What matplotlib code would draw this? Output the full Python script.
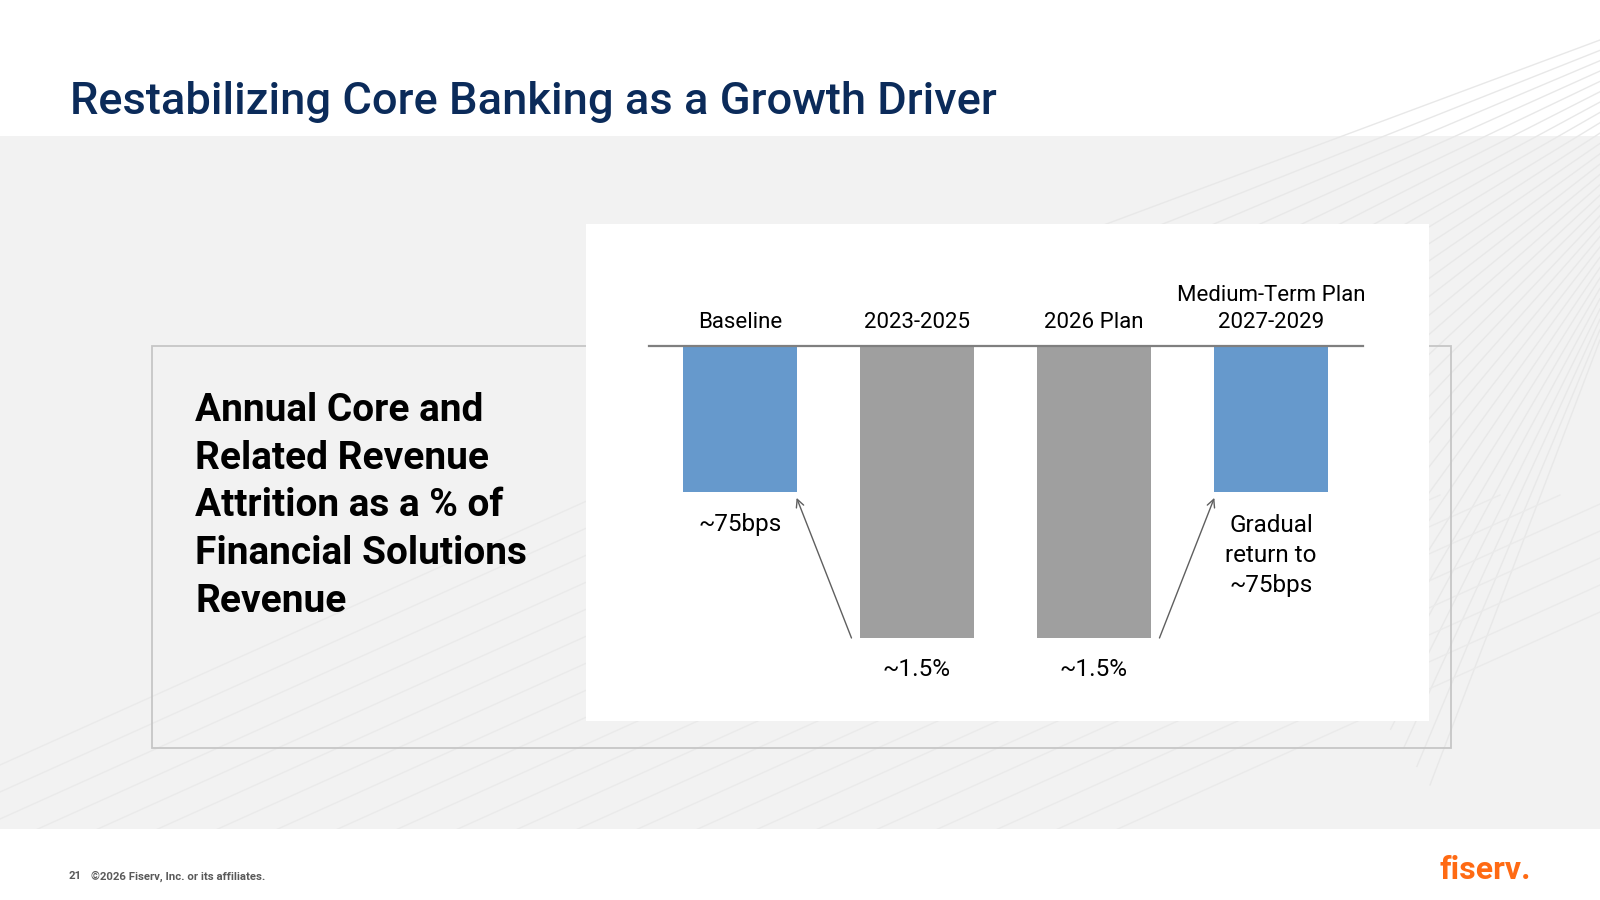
import matplotlib
matplotlib.use("Agg")
import matplotlib.pyplot as plt
from matplotlib.patches import Rectangle
import numpy as np

# ---------------- data ----------------
categories = ["Baseline", "2023-2025", "2026 Plan", "Medium-Term Plan\n2027-2029"]
values = [-0.75, -1.5, -1.5, -0.75]          # attrition, % of revenue (drawn downward)
value_labels = ["~75bps", "~1.5%", "~1.5%", "Gradual\nreturn to\n~75bps"]
bar_colors = ["#6699cc", "#9f9f9f", "#9f9f9f", "#6699cc"]

title = "Restabilizing Core Banking as a Growth Driver"
side_text = "Annual Core and\nRelated Revenue\nAttrition as a % of\nFinancial Solutions\nRevenue"
footer_num = "21"
footer_text = "\u00a92026 Fiserv, Inc. or its affiliates."
logo_text = "fiserv."

FONT = "Roboto"
plt.rcParams["font.family"] = [FONT, "DejaVu Sans"]

W, H = 1600, 900
fig = plt.figure(figsize=(16, 9), dpi=100)
fig.patch.set_facecolor("white")

# ---------------- slide background (pixel coordinates) ----------------
bg = fig.add_axes([0, 0, 1, 1])
bg.set_xlim(0, W)
bg.set_ylim(H, 0)
bg.axis("off")

bg.add_patch(Rectangle((0, 136), W, 693, facecolor="#f2f2f2", edgecolor="none", zorder=0))

# decorative faint stripes
clip_all = Rectangle((0, 0), W, 829, transform=bg.transData, facecolor="none", edgecolor="none")
bg.add_patch(clip_all)
for t in np.linspace(0, 1, 30):
    x0 = 1050 + 380 * t
    y0 = 245 + 540 * t
    x1 = 1600
    y1 = 40 + 300 * t
    ln, = bg.plot([x0, x1], [y0, y1], color="#e8e8e8", lw=1.0, zorder=1)
    ln.set_clip_path(clip_all)

clip_low = Rectangle((0, 136), W, 693, transform=bg.transData, facecolor="none", edgecolor="none")
bg.add_patch(clip_low)
for k in range(22):
    xs = -300 + 60 * k
    ln, = bg.plot([xs, xs + 900], [900, 900 - 900 * 0.45], color="#eaeaea", lw=1.0, zorder=1)
    ln.set_clip_path(clip_low)

# outline box and white chart panel
bg.add_patch(Rectangle((152, 346), 1299, 402, facecolor="none", edgecolor="#c6c6c6", lw=1.3, zorder=2))
bg.add_patch(Rectangle((586, 224), 843, 497, facecolor="white", edgecolor="none", zorder=3))

# title
bg.text(70, 102, title, fontsize=32.6, fontweight="medium", color="#0b2b5a",
        ha="left", va="center", zorder=5)

# side text
bg.text(195, 506, side_text, fontsize=28, fontweight="bold", color="black",
        ha="left", va="center", linespacing=1.37, zorder=5)

# footer
bg.text(69, 876, footer_num, fontsize=8.2, fontweight="bold", color="#5a5a5a", ha="left", va="center")
bg.text(91, 876, footer_text, fontsize=8.2, fontweight="bold", color="#5a5a5a", ha="left", va="center")
bg.text(1531, 879, logo_text, fontsize=23, fontweight="bold",
        color="#ff6a13", ha="right", va="baseline")

# ---------------- chart ----------------
ax = fig.add_axes([649 / W, (H - 638) / H, 714 / W, 292 / H])
ax.set_facecolor("none")
ax.set_zorder(10)
ax.set_xlim(-0.514, 3.52)
ax.set_ylim(-1.5, 0)
ax.axis("off")

x = np.arange(len(categories))
bw = 0.64
ax.bar(x, values, width=bw, color=bar_colors, edgecolor="none", zorder=2)
ax.axhline(0, color="#7f7f7f", lw=1.6, zorder=3, clip_on=False)

for i, cat in enumerate(categories):
    ax.annotate(cat, xy=(x[i], 0), xytext=(0, 13), textcoords="offset pixels",
                ha="center", va="bottom", fontsize=16, color="black",
                linespacing=1.38, annotation_clip=False)

for i, lab in enumerate(value_labels):
    if "\n" in lab:
        ax.annotate(lab, xy=(x[i], values[i]), xytext=(0, -22), textcoords="offset pixels",
                    ha="center", va="top", fontsize=17.5, color="black",
                    linespacing=1.38, multialignment="center", annotation_clip=False)
    else:
        ax.annotate(lab, xy=(x[i], values[i]), xytext=(0, -32), textcoords="offset pixels",
                    ha="center", va="center", fontsize=17.5, color="black",
                    annotation_clip=False)

arrow_kw = dict(arrowstyle="->", color="#5f5f5f", lw=1.0, shrinkA=0, shrinkB=0, mutation_scale=14)
# from the deep bars back up to the ~75bps level
ax.annotate("", xy=(x[0] + bw / 2, values[0] - 0.03), xytext=(x[1] - bw / 2 - 0.05, values[1]),
            arrowprops=arrow_kw, annotation_clip=False)
ax.annotate("", xy=(x[3] - bw / 2, values[3] - 0.03), xytext=(x[2] + bw / 2 + 0.05, values[2]),
            arrowprops=arrow_kw, annotation_clip=False)

fig.savefig("out.png", dpi=100)
